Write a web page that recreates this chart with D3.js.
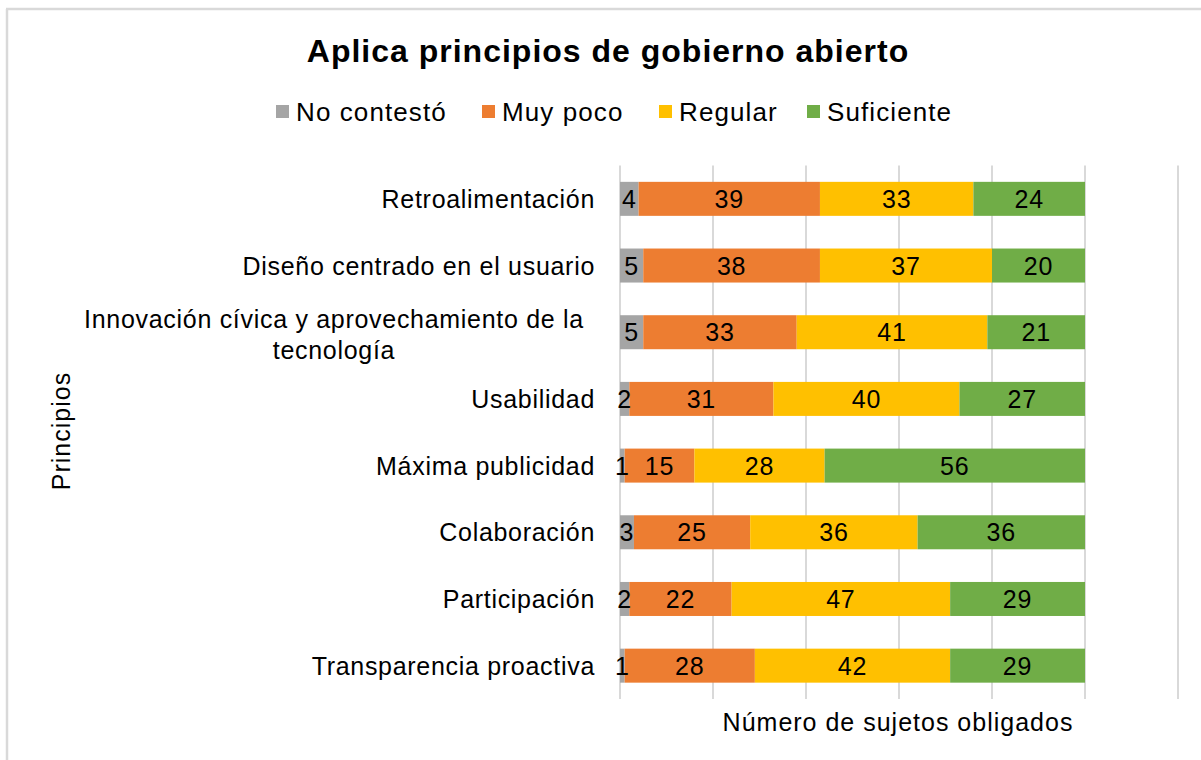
<!DOCTYPE html>
<html lang="es">
<head>
<meta charset="UTF-8">
<title>Aplica principios de gobierno abierto</title>
<script src="https://d3js.org/d3.v7.min.js"></script>
<style>
  body { margin: 0; background: #fff; }
  text { font-family: "Liberation Sans", Arial, sans-serif; fill: #000; }
</style>
</head>
<body>
<script>
const categories = [
  "Retroalimentación",
  "Diseño centrado en el usuario",
  "Innovación cívica y aprovechamiento de la|tecnología",
  "Usabilidad",
  "Máxima publicidad",
  "Colaboración",
  "Participación",
  "Transparencia proactiva"
];
const seriesNames = ["No contestó", "Muy poco", "Regular", "Suficiente"];
const noContesto = [4, 5, 5, 2, 1, 3, 2, 1];
const muyPoco    = [39, 38, 33, 31, 15, 25, 22, 28];
const regular    = [33, 37, 41, 40, 28, 36, 47, 42];
const suficiente = [24, 20, 21, 27, 56, 36, 29, 29];
const xTicks = [0, 20, 40, 60, 80, 100, 120];
const colors = ["#a5a5a5", "#ed7d31", "#ffc000", "#70ad47"];

const w = 1201, h = 760;
const plotLeft = 620, plotRight = 1178, plotTop = 165.5, plotBottom = 699;

const rows = categories.map((c, i) => ({
  cat: c,
  "No contestó": noContesto[i],
  "Muy poco": muyPoco[i],
  "Regular": regular[i],
  "Suficiente": suficiente[i]
}));
const stacked = d3.stack().keys(seriesNames)(rows);

const x = d3.scaleLinear().domain([0, 120]).range([plotLeft, plotRight]);
const y = d3.scaleBand().domain(categories).range([plotTop, plotBottom]).paddingInner(0.49).paddingOuter(0.245);

const svg = d3.select("body").append("svg").attr("width", w).attr("height", h);

// frame
svg.append("line").attr("x1", 6).attr("x2", w).attr("y1", 9).attr("y2", 9)
   .attr("stroke", "#d9d9d9").attr("stroke-width", 2.5);
svg.append("line").attr("x1", 7).attr("x2", 7).attr("y1", 9).attr("y2", h)
   .attr("stroke", "#d9d9d9").attr("stroke-width", 2.5);

// title
svg.append("text").attr("x", 608).attr("y", 62).attr("text-anchor", "middle")
   .style("font-size", "32px").style("font-weight", "bold").style("letter-spacing", "1px")
   .text("Aplica principios de gobierno abierto");

// legend
const legendX = [276, 482, 659, 807];
const lg = svg.append("g").selectAll("g").data(seriesNames).enter().append("g")
  .attr("transform", (d, i) => `translate(${legendX[i]},121)`);
lg.append("rect").attr("x", 0).attr("y", -16).attr("width", 13).attr("height", 13)
  .attr("fill", (d, i) => colors[i]);
lg.append("text").attr("x", 20).attr("y", 0)
  .style("font-size", "26px").style("letter-spacing", "1.1px").text(d => d);

// gridlines
svg.append("g").selectAll("line").data(xTicks).enter().append("line")
   .attr("x1", d => x(d)).attr("x2", d => x(d))
   .attr("y1", plotTop).attr("y2", plotBottom)
   .attr("stroke", "#d9d9d9").attr("stroke-width", 2);

// bars
const layer = svg.append("g").selectAll("g").data(stacked).enter().append("g")
  .attr("fill", (d, i) => colors[i]);
layer.selectAll("rect").data(d => d).enter().append("rect")
  .attr("x", d => x(d[0]))
  .attr("y", d => y(d.data.cat))
  .attr("width", d => x(d[1]) - x(d[0]))
  .attr("height", y.bandwidth());

// value labels
const lbl = svg.append("g").selectAll("g").data(stacked).enter().append("g");
lbl.selectAll("text").data(d => d).enter().append("text")
  .attr("x", d => (x(d[0]) + x(d[1])) / 2)
  .attr("y", d => y(d.data.cat) + y.bandwidth() / 2 + 9)
  .attr("text-anchor", "middle")
  .style("font-size", "25px").style("letter-spacing", "0.8px")
  .text(d => d[1] - d[0]);

// category labels
const catG = svg.append("g");
categories.forEach(c => {
  const lines = c.split("|");
  const cy = y(c) + y.bandwidth() / 2;
  if (lines.length === 1) {
    catG.append("text").attr("x", 595).attr("y", cy + 9)
      .attr("text-anchor", "end").style("font-size", "25px").style("letter-spacing", "0.7px").text(c);
  } else {
    const t = catG.append("text").attr("text-anchor", "middle")
      .style("font-size", "25px").style("letter-spacing", "0.7px");
    lines.forEach((l, j) => {
      t.append("tspan").attr("x", 334).attr("y", cy - 4 + j * 31).text(l);
    });
  }
});

// axis titles
svg.append("text").attr("x", 898).attr("y", 731).attr("text-anchor", "middle")
   .style("font-size", "25px").style("letter-spacing", "1px").text("Número de sujetos obligados");
svg.append("text").attr("transform", "translate(70,431) rotate(-90)")
   .attr("text-anchor", "middle").style("font-size", "25px").style("letter-spacing", "1px").text("Principios");
</script>
</body>
</html>
